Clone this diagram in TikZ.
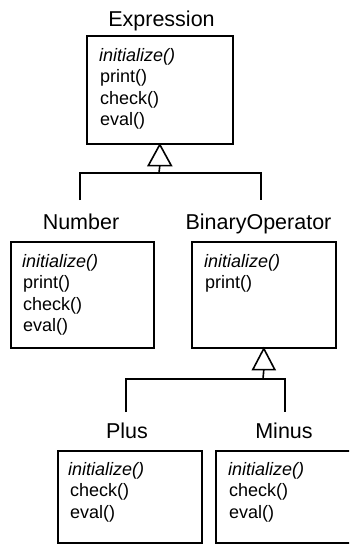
\documentclass[tikz,border=0pt]{standalone}
\usepackage{fontspec}
\setmainfont{Liberation Sans}
\usetikzlibrary{calc}
\begin{document}
\begin{tikzpicture}[x=1pt,y=-1pt,
  classbox/.style={draw, line width=1.6pt, inner sep=0pt, anchor=north west},
  ctitle/.style={font=\fontsize{21.5}{25}\selectfont, anchor=base, inner sep=0pt},
  meth/.style={font=\fontsize{18}{21}\selectfont, anchor=base west, inner sep=0pt},
  conn/.style={line width=1.6pt, line join=miter},
  gen/.style={line width=1.6pt, fill=white, line join=miter}]
\useasboundingbox (0,0) rectangle (349,544);
\clip (0,0) rectangle (349,544);
% Expression
\node[ctitle] (expr) at (161.5,26) {Expression};
\node[classbox, minimum width=146pt, minimum height=108pt] (exprbox) at (86,35) {};
\node[meth] (e1) at (99,61) {\textit{initialize()}};
\node[meth] (e2) at (100,82.5) {print()};
\node[meth] (e3) at (100,104) {check()};
\node[meth] (e4) at (100,125.5) {eval()};
% Number
\node[ctitle] (num) at (81,229) {Number};
\node[classbox, minimum width=143pt, minimum height=106pt] (numbox) at (10,241) {};
\node[meth] (n1) at (22,267) {\textit{initialize()}};
\node[meth] (n2) at (23,288.5) {print()};
\node[meth] (n3) at (23,310) {check()};
\node[meth] (n4) at (23,331.5) {eval()};
% BinaryOperator
\node[ctitle] (bin) at (258.5,229) {BinaryOperator};
\node[classbox, minimum width=144pt, minimum height=106pt] (binbox) at (191,241) {};
\node[meth] (b1) at (204,267) {\textit{initialize()}};
\node[meth] (b2) at (205,288.5) {print()};
% Plus
\node[ctitle] (plus) at (127,438) {Plus};
\node[classbox, minimum width=144pt, minimum height=92pt] (plusbox) at (57,450) {};
\node[meth] (p1) at (68,475) {\textit{initialize()}};
\node[meth] (p2) at (70,496.5) {check()};
\node[meth] (p3) at (70,518) {eval()};
% Minus
\node[ctitle] (minus) at (284,438) {Minus};
\node[classbox, minimum width=150pt, minimum height=92pt] (minusbox) at (215,450) {};
\node[meth] (m1) at (228,475) {\textit{initialize()}};
\node[meth] (m2) at (229,496.5) {check()};
\node[meth] (m3) at (229,518) {eval()};
% generalization 1
\coordinate (t1base) at ($(exprbox.south)+(0,21)$);
\coordinate (j1) at (159,173);
\coordinate (numtop) at (80,200);
\coordinate (bintop) at (261,200);
\draw[conn] (t1base) -- (j1);
\draw[conn] (numtop) |- (j1) -| (bintop);
\draw[gen] (exprbox.south) -- ++(-11.5,21) -- ++(23,0) -- cycle;
% generalization 2
\coordinate (t2base) at ($(binbox.south)+(0,21)$);
\coordinate (j2) at (263,379);
\coordinate (plustop) at (126,412);
\coordinate (minustop) at (285,412);
\draw[conn] (t2base) -- (j2);
\draw[conn] (plustop) |- (j2) -| (minustop);
\draw[gen] (binbox.south) -- ++(-11,21) -- ++(22,0) -- cycle;
\end{tikzpicture}
\end{document}
